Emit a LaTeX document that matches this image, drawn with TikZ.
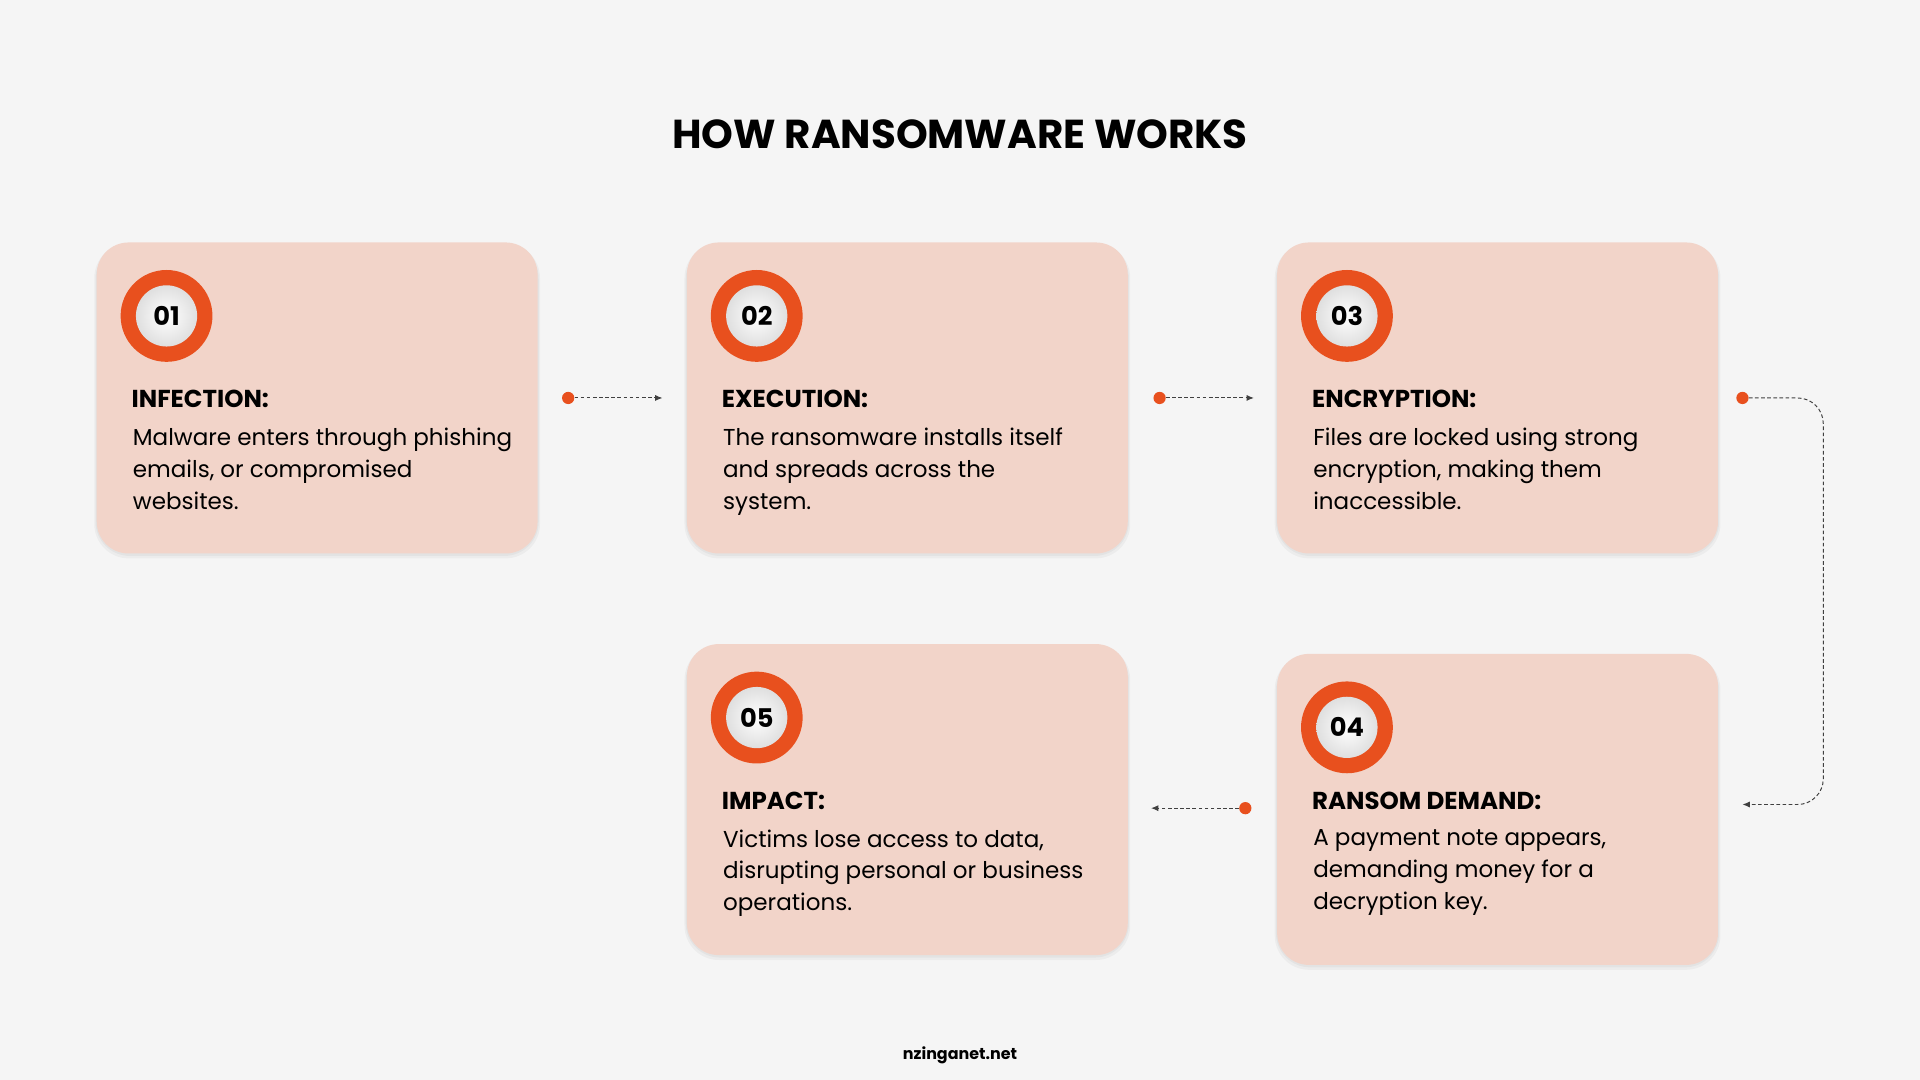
\documentclass[tikz,border=0pt]{standalone}
\usepackage{fontspec}
\setmainfont{Poppins}
\usetikzlibrary{arrows.meta}
\definecolor{bg}{HTML}{F5F5F5}
\definecolor{card}{HTML}{F2D4C9}
\definecolor{org}{HTML}{E8501E}
\tikzset{
 card/.style={fill=card,rounded corners=26pt,draw=none},
 shade/.style={fill=black,fill opacity=0.035,rounded corners=28pt,draw=none},
 ring/.style={circle,fill=org,minimum size=75pt,inner sep=0},
 inner/.style={circle,inner color=white,outer color=gray!25,minimum size=50pt,inner sep=0,font=\fontsize{21}{21}\selectfont\bfseries},
 head/.style={anchor=west,font=\fontsize{20}{20}\selectfont\bfseries},
 body/.style={anchor=north west,align=left,font=\fontsize{18.8}{26}\selectfont},
 dot/.style={circle,fill=org,minimum size=10pt,inner sep=0},
 conn/.style={densely dashed,draw=black!75,line width=0.8pt,-{Latex[length=6pt,width=5pt]}}
}
\begin{document}
\begin{tikzpicture}[x=1pt,y=-1pt]
\fill[bg] (0,0) rectangle (1568,882);
\useasboundingbox (0,0) rectangle (1568,882);
\node (title) at (784,110) {\fontsize{33}{33}\selectfont\bfseries HOW RANSOMWARE WORKS};
\newcommand\mystep[9]{% name x y num head l1 l2 l3 texty
 \path[shade] (#2-2,#3+1) rectangle ++(364,257);
 \path[shade] (#2-1,#3+2) rectangle ++(362,254);
 \path[card] (#2,#3) rectangle ++(360,254);
 \node[ring] (#1r) at (#2+57,#3+60) {};
 \node[inner] (#1n) at (#1r) {#4};
 \node[head] (#1h) at (#2+25,#9) {#5};
 \node[body] (#1b) at (#2+26,#9+20) {#6\\#7\\#8};
}
\mystep{a}{79}{198}{01}{INFECTION:}{Malware enters through phishing}{emails, or compromised}{websites.}{326}
\mystep{b}{561}{198}{02}{EXECUTION:}{The ransomware installs itself}{and spreads across the}{system.}{326}
\mystep{c}{1043}{198}{03}{ENCRYPTION:}{Files are locked using strong}{encryption, making them}{inaccessible.}{326}
\mystep{e}{561}{526}{05}{IMPACT:}{Victims lose access to data,}{disrupting personal or business}{operations.}{654}
\mystep{d}{1043}{534}{04}{RANSOM DEMAND:}{A payment note appears,}{demanding money for a}{decryption key.}{654}
\node[dot] (d1) at (464,325) {}; \coordinate (t1) at (541,325);
\draw[conn] (d1) -- (t1);
\node[dot] (d2) at (947,325) {}; \coordinate (t2) at (1024,325);
\draw[conn] (d2) -- (t2);
\node[dot] (d3) at (1423,325) {}; \coordinate (t3) at (1423,657);
\draw[conn] (d3) -- (1468,325) to[out=0,in=90] (1489,346) -- (1489,636) to[out=-90,in=0] (1468,657) -- (t3);
\node[dot] (d4) at (1017,660) {}; \coordinate (t4) at (940,660);
\draw[conn] (d4) -- (t4);
\node (foot) at (784,862) {\fontsize{13}{13}\selectfont\bfseries nzinganet.net};
\end{tikzpicture}
\end{document}
